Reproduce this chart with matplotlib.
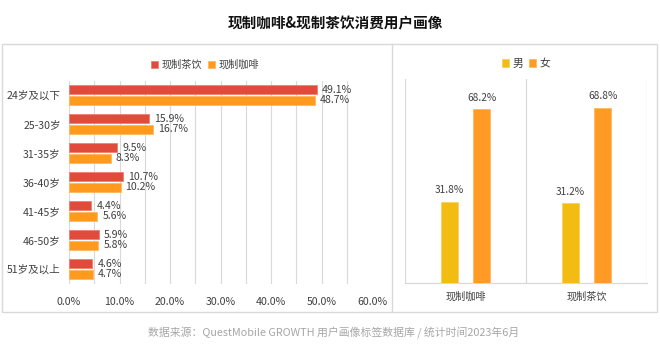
import matplotlib
matplotlib.use("Agg")
import matplotlib.pyplot as plt
from matplotlib.patches import Rectangle
from matplotlib.lines import Line2D
import numpy as np

plt.rcParams['font.family'] = ['Noto Sans CJK SC', 'DejaVu Sans']

title = "现制咖啡&现制茶饮消费用户画像"
footer = "数据来源：QuestMobile GROWTH 用户画像标签数据库 / 统计时间2023年6月"

age_groups = ["24岁及以下", "25-30岁", "31-35岁", "36-40岁", "41-45岁", "46-50岁", "51岁及以上"]
tea_vals = [49.1, 15.9, 9.5, 10.7, 4.4, 5.9, 4.6]
coffee_vals = [48.7, 16.7, 8.3, 10.2, 5.6, 5.8, 4.7]
age_series = ["现制茶饮", "现制咖啡"]

gender_cats = ["现制咖啡", "现制茶饮"]
male_vals = [31.8, 31.2]
female_vals = [68.2, 68.8]
gender_series = ["男", "女"]

W, H = 660, 350
fig = plt.figure(figsize=(6.6, 3.5), dpi=100)

def fx(x): return x / W
def fy(y): return 1 - y / H

TXT = '#404040'
GRID = '#d9d9d9'
RED = '#e04b3b'
ORANGE = '#ff9a1f'
YELLOW = '#f2bc13'
ORANGE2 = '#ff9a25'

# outer box and divider
fig.add_artist(Rectangle((fx(2), fy(312)), fx(655), (312 - 44) / H, transform=fig.transFigure,
                         fill=False, edgecolor='#d9d9d9', lw=1.0))
fig.add_artist(Line2D([fx(392), fx(392)], [fy(44), fy(312)], transform=fig.transFigure,
                      color='#d9d9d9', lw=1.0))

fig.text(fx(335), fy(23), title, ha='center', va='center', fontsize=10.5, fontweight='bold', color='#111111')
fig.text(fx(334), fy(333), footer, ha='center', va='center', fontsize=7.8, color='#a6a6a6')

# left chart
ax1 = fig.add_axes([fx(69), fy(283.5), (372 - 69) / W, 203 / H])
y = np.arange(len(age_groups))
bh = 0.33
off = 0.185
b1 = ax1.barh(y - off, tea_vals, height=bh, color=RED, edgecolor='#f08070', lw=0.6, label=age_series[0], zorder=3)
b2 = ax1.barh(y + off, coffee_vals, height=bh, color=ORANGE, edgecolor='#ffb860', lw=0.6, label=age_series[1], zorder=3)
for yy, v in zip(y - off, tea_vals):
    ax1.text(v + 1.0, yy, f"{v:.1f}%", va='center', ha='left', fontsize=7.6, color=TXT)
for yy, v in zip(y + off, coffee_vals):
    ax1.text(v + 1.0, yy, f"{v:.1f}%", va='center', ha='left', fontsize=7.6, color=TXT)
ax1.set_xlim(0, 60)
ax1.set_ylim(6.5, -0.5)
ax1.set_yticks(y)
ax1.set_yticklabels(age_groups, fontsize=7.6, color=TXT)
ax1.set_xticks(np.arange(0, 61, 10))
ax1.set_xticklabels([f"{t:.1f}%" for t in np.arange(0, 61, 10)], fontsize=7.6, color=TXT)
ax1.set_xticks(np.arange(0, 61, 5), minor=True)
ax1.grid(axis='x', which='both', color=GRID, lw=0.8, zorder=0)
for s in ax1.spines.values():
    s.set_visible(False)
ax1.tick_params(axis='both', which='both', length=0)
ax1.tick_params(axis='x', pad=10)
ax1.tick_params(axis='y', pad=6)
fig.legend(handles=[b1, b2], labels=age_series, loc='center', bbox_to_anchor=(fx(205), fy(65)),
           bbox_transform=fig.transFigure, ncol=2, frameon=False, fontsize=7.3,
           handlelength=0.7, handleheight=0.7, handletextpad=0.3, columnspacing=0.6, labelcolor=TXT)

# right chart
ax2 = fig.add_axes([fx(405), fy(283), (647 - 405) / W, 204 / H])
x = np.arange(len(gender_cats))
bw = 0.14
goff = 0.135
m = ax2.bar(x - goff, male_vals, width=bw, color=YELLOW, edgecolor='#f8d060', lw=0.6, label=gender_series[0], zorder=3)
f = ax2.bar(x + goff, female_vals, width=bw, color=ORANGE2, edgecolor='#ffb860', lw=0.6, label=gender_series[1], zorder=3)
for xx, v in zip(x - goff, male_vals):
    ax2.text(xx, v + 4.5, f"{v:.1f}%", ha='center', va='center', fontsize=7.3, color=TXT)
for xx, v in zip(x + goff, female_vals):
    ax2.text(xx, v + 4.5, f"{v:.1f}%", ha='center', va='center', fontsize=7.3, color=TXT)
ax2.set_xlim(-0.5, 1.5)
ax2.set_ylim(0, 80)
ax2.set_xticks(x)
ax2.set_xticklabels(gender_cats, fontsize=7.3, color=TXT)
ax2.set_yticks([])
for xv in [-0.5, 0.5, 1.5]:
    ax2.axvline(xv, color=GRID, lw=0.9, zorder=1)
for s in ['top', 'left', 'right']:
    ax2.spines[s].set_visible(False)
ax2.spines['bottom'].set_color(GRID)
ax2.spines['bottom'].set_linewidth(0.9)
ax2.tick_params(axis='x', length=0, pad=6)
fig.legend(handles=[m, f], labels=gender_series, loc='center', bbox_to_anchor=(fx(526), fy(64)),
           bbox_transform=fig.transFigure, ncol=2, frameon=False, fontsize=7.8,
           handlelength=0.7, handleheight=0.7, handletextpad=0.3, columnspacing=0.5, labelcolor=TXT)

fig.savefig("out.png", dpi=100)
